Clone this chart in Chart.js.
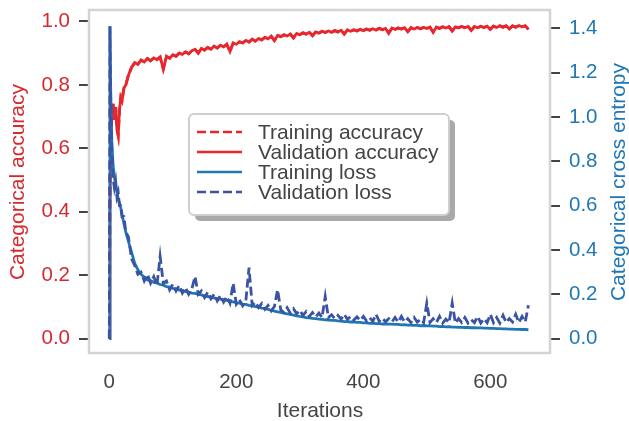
<!DOCTYPE html>
<html>
<head>
<meta charset="utf-8">
<script src="https://cdn.jsdelivr.net/npm/chart.js@4.4.1/dist/chart.umd.min.js"></script>
<style>
  body { margin: 0; background: #fff; }
  canvas { display: block; }
</style>
</head>
<body>
<canvas id="historyChart" width="629" height="421"></canvas>
<script>
// iterations at which the curves were sampled
const iterations = [0, 1, 2, 4, 6, 8, 10, 12, 14, 16, 18, 20, 23, 26,
    30, 35, 40, 45, 50, 55, 60, 65, 70, 75, 80, 85, 90, 95, 100,
    105, 110, 115, 120, 125, 130, 135, 140, 145, 150, 155, 160, 165, 170, 175, 180, 185, 190, 195, 200,
    205, 210, 215, 220, 225, 230, 235, 240, 245, 250, 255, 260, 265, 270, 275, 280, 285, 290, 295, 300,
    305, 310, 315, 320, 325, 330, 335, 340, 345, 350, 355, 360, 365, 370, 375, 380, 385, 390, 395, 400,
    405, 410, 415, 420, 425, 430, 435, 440, 445, 450, 455, 460, 465, 470, 475, 480, 485, 490, 495, 500,
    505, 510, 515, 520, 525, 530, 535, 540, 545, 550, 555, 560, 565, 570, 575, 580, 585, 590, 595, 600,
    605, 610, 615, 620, 625, 630, 635, 640, 645, 650, 655, 660];

const valAcc = [0.00, 0.40, 0.60, 0.70, 0.74, 0.69, 0.73, 0.66, 0.64, 0.72, 0.76, 0.75, 0.79, 0.80,
    0.83, 0.855, 0.87, 0.865, 0.878, 0.872, 0.883, 0.876, 0.885, 0.88, 0.888, 0.85, 0.89, 0.884, 0.895,
    0.89, 0.90, 0.896, 0.904, 0.898, 0.908, 0.912, 0.90, 0.915, 0.91, 0.918, 0.912, 0.922, 0.916, 0.925, 0.92, 0.928, 0.905, 0.932, 0.928,
    0.936, 0.932, 0.94, 0.935, 0.944, 0.938, 0.946, 0.942, 0.95, 0.945, 0.953, 0.94, 0.956, 0.952, 0.958, 0.954, 0.96, 0.948, 0.962, 0.958,
    0.964, 0.96, 0.966, 0.955, 0.967, 0.963, 0.969, 0.965, 0.97, 0.966, 0.971, 0.967, 0.972, 0.96, 0.973, 0.969, 0.974, 0.97, 0.975, 0.971,
    0.976, 0.972, 0.977, 0.973, 0.978, 0.974, 0.978, 0.963, 0.979, 0.975, 0.979, 0.976, 0.98, 0.968, 0.98, 0.976, 0.981, 0.977, 0.981, 0.978,
    0.982, 0.966, 0.982, 0.978, 0.983, 0.979, 0.983, 0.97, 0.983, 0.98, 0.984, 0.98, 0.984, 0.972, 0.984, 0.98, 0.985, 0.981, 0.985, 0.975,
    0.985, 0.981, 0.986, 0.982, 0.986, 0.976, 0.986, 0.982, 0.987, 0.983, 0.986, 0.975];

// training accuracy sits right under the validation curve
const trainAcc = valAcc;

const trainLoss = [0.00, 1.41, 1.15, 0.88, 0.78, 0.73, 0.69, 0.66, 0.63, 0.61, 0.59, 0.56, 0.52, 0.48,
    0.44, 0.39, 0.34, 0.31, 0.29, 0.278, 0.265, 0.262, 0.254, 0.251, 0.244, 0.241, 0.235, 0.233, 0.227,
    0.225, 0.219, 0.218, 0.212, 0.21, 0.205, 0.204, 0.199, 0.197, 0.192, 0.19, 0.186, 0.184, 0.18, 0.178, 0.174, 0.172, 0.168, 0.166, 0.162,
    0.16, 0.156, 0.154, 0.15, 0.148, 0.144, 0.142, 0.138, 0.136, 0.132, 0.128, 0.124, 0.121, 0.118, 0.115, 0.112, 0.109, 0.106, 0.103, 0.1,
    0.098, 0.095, 0.094, 0.091, 0.09, 0.088, 0.087, 0.085, 0.084, 0.082, 0.082, 0.08, 0.079, 0.077, 0.077, 0.075, 0.075, 0.073, 0.073, 0.071,
    0.071, 0.069, 0.07, 0.068, 0.068, 0.066, 0.067, 0.065, 0.065, 0.064, 0.064, 0.062, 0.063, 0.061, 0.061, 0.06, 0.06, 0.058, 0.059, 0.057,
    0.057, 0.056, 0.056, 0.054, 0.055, 0.053, 0.054, 0.052, 0.052, 0.051, 0.051, 0.05, 0.05, 0.049, 0.049, 0.048, 0.048, 0.047, 0.047, 0.046,
    0.046, 0.045, 0.045, 0.044, 0.044, 0.043, 0.043, 0.042, 0.042, 0.041, 0.041, 0.04];

const valLoss = [0.00, 1.41, 1.10, 0.85, 0.72, 0.68, 0.71, 0.64, 0.66, 0.60, 0.60, 0.55, 0.55, 0.48,
    0.46, 0.36, 0.33, 0.29, 0.30, 0.26, 0.29, 0.25, 0.28, 0.24, 0.37, 0.25, 0.26, 0.22, 0.245,
    0.215, 0.24, 0.205, 0.23, 0.20, 0.225, 0.28, 0.20, 0.215, 0.185, 0.21, 0.18, 0.20, 0.17, 0.195, 0.165, 0.19, 0.16, 0.25, 0.155,
    0.175, 0.148, 0.17, 0.32, 0.15, 0.165, 0.14, 0.158, 0.132, 0.15, 0.125, 0.145, 0.22, 0.13, 0.118, 0.14, 0.115, 0.135, 0.112, 0.128,
    0.105, 0.122, 0.10, 0.118, 0.098, 0.115, 0.095, 0.19, 0.095, 0.108, 0.09, 0.105, 0.088, 0.11, 0.086, 0.10, 0.084, 0.098, 0.082, 0.10,
    0.08, 0.095, 0.078, 0.11, 0.078, 0.092, 0.076, 0.09, 0.075, 0.095, 0.074, 0.10, 0.075, 0.09, 0.072, 0.095, 0.074, 0.088, 0.072, 0.16,
    0.073, 0.09, 0.072, 0.10, 0.07, 0.088, 0.072, 0.16, 0.07, 0.09, 0.072, 0.095, 0.07, 0.085, 0.072, 0.10, 0.07, 0.09, 0.072, 0.11,
    0.072, 0.095, 0.07, 0.105, 0.072, 0.09, 0.075, 0.11, 0.072, 0.10, 0.075, 0.15];

const iterTicks = [0, 200, 400, 600];
const accTicks = [0, 0.2, 0.4, 0.6, 0.8, 1.0];
const lossTicks = [0, 0.2, 0.4, 0.6, 0.8, 1.0, 1.2, 1.4];

const RED = '#e8262c';
const RED_TEXT = '#d62a2f';
const BLUE = '#1f77b4';
const DARK_BLUE = '#3a53a4';
const GREY_TEXT = '#444444';
const FONT = '"Liberation Sans", Arial, sans-serif';

function points(values) {
    return iterations.map((x, i) => ({ x: x, y: values[i] }));
}

// frame, in-plot legend and the axis titles
const decorPlugin = {
    id: 'decor',
    afterDatasetsDraw(chart) {
        const { ctx, chartArea: a } = chart;
        ctx.save();
        ctx.strokeStyle = '#d4d4d4';
        ctx.lineWidth = 2.5;
        ctx.strokeRect(a.left, a.top, a.right - a.left, a.bottom - a.top);
        ctx.restore();
    },
    afterDraw(chart) {
        const ctx = chart.ctx;
        ctx.save();

        // legend box with shadow
        const bx = 189, by = 114, bw = 260, bh = 101;
        ctx.fillStyle = '#a9a9a9';
        ctx.beginPath();
        ctx.roundRect(bx + 6, by + 6, bw, bh, 5);
        ctx.fill();
        ctx.fillStyle = '#ffffff';
        ctx.strokeStyle = '#cfcfcf';
        ctx.lineWidth = 2;
        ctx.beginPath();
        ctx.roundRect(bx, by, bw, bh, 5);
        ctx.fill();
        ctx.stroke();

        ctx.font = '21px ' + FONT;
        ctx.textBaseline = 'alphabetic';
        ctx.textAlign = 'left';
        chart.data.datasets.forEach((ds, i) => {
            const y = 132 + i * 20;
            ctx.strokeStyle = ds.borderColor;
            ctx.lineWidth = 2.5;
            ctx.setLineDash(ds.borderDash || []);
            ctx.beginPath();
            ctx.moveTo(197, y);
            ctx.lineTo(242, y);
            ctx.stroke();
            ctx.setLineDash([]);
            ctx.fillStyle = GREY_TEXT;
            ctx.fillText(ds.label, 258, y + 6.5);
        });

        // axis titles
        ctx.textAlign = 'center';
        ctx.fillStyle = GREY_TEXT;
        ctx.fillText('Iterations', 320, 417);
        ctx.fillStyle = RED_TEXT;
        ctx.translate(24, 182);
        ctx.rotate(-Math.PI / 2);
        ctx.fillText('Categorical accuracy', 0, 0);
        ctx.setTransform(1, 0, 0, 1, 0, 0);
        ctx.fillStyle = BLUE;
        ctx.translate(625, 182);
        ctx.rotate(-Math.PI / 2);
        ctx.fillText('Categorical cross entropy', 0, 0);
        ctx.restore();
    }
};

function fixTicks(list) {
    return function(scale) {
        scale.ticks = list.map(v => ({ value: v }));
    };
}

const ctx = document.getElementById('historyChart').getContext('2d');

new Chart(ctx, {
    type: 'line',
    data: {
        datasets: [{
            label: 'Training accuracy',
            data: points(trainAcc),
            yAxisID: 'y',
            borderColor: RED,
            borderDash: [9, 4],
            borderWidth: 2.8,
            pointRadius: 0,
            order: 4
        }, {
            label: 'Validation accuracy',
            data: points(valAcc),
            yAxisID: 'y',
            borderColor: RED,
            borderWidth: 2.8,
            pointRadius: 0,
            order: 3
        }, {
            label: 'Training loss',
            data: points(trainLoss),
            yAxisID: 'y1',
            borderColor: BLUE,
            borderWidth: 2.8,
            pointRadius: 0,
            order: 2
        }, {
            label: 'Validation loss',
            data: points(valLoss),
            yAxisID: 'y1',
            borderColor: DARK_BLUE,
            borderDash: [9, 4],
            borderWidth: 2.8,
            pointRadius: 0,
            order: 1
        }]
    },
    options: {
        responsive: false,
        animation: false,
        devicePixelRatio: 1,
        layout: {
            padding: { top: 10, left: 0, right: 0, bottom: 0 }
        },
        scales: {
            x: {
                type: 'linear',
                min: -32,
                max: 694,
                afterBuildTicks: fixTicks(iterTicks),
                afterFit: function(scale) {
                    scale.height = 68;
                    scale.paddingLeft = 0;
                    scale.paddingRight = 0;
                },
                grid: { display: false, drawTicks: false },
                border: { display: false },
                ticks: {
                    color: GREY_TEXT,
                    font: { family: FONT, size: 20.5 },
                    padding: 17,
                    maxRotation: 0
                }
            },
            y: {
                position: 'left',
                min: -0.045,
                max: 1.036,
                afterBuildTicks: fixTicks(accTicks),
                afterFit: function(scale) {
                    scale.width = 89;
                    scale.paddingTop = 0;
                    scale.paddingBottom = 0;
                },
                grid: {
                    drawOnChartArea: false,
                    drawTicks: true,
                    tickLength: 10,
                    tickColor: GREY_TEXT,
                    lineWidth: 2
                },
                border: { display: false },
                ticks: {
                    color: RED_TEXT,
                    font: { family: FONT, size: 20.5 },
                    padding: 9,
                    callback: v => v.toFixed(1)
                }
            },
            y1: {
                position: 'right',
                min: -0.065,
                max: 1.483,
                afterBuildTicks: fixTicks(lossTicks),
                afterFit: function(scale) {
                    scale.width = 79;
                    scale.paddingTop = 0;
                    scale.paddingBottom = 0;
                },
                grid: {
                    drawOnChartArea: false,
                    drawTicks: true,
                    tickLength: 10,
                    tickColor: GREY_TEXT,
                    lineWidth: 2
                },
                border: { display: false },
                ticks: {
                    color: BLUE,
                    font: { family: FONT, size: 20.5 },
                    padding: 9,
                    callback: v => v.toFixed(1)
                }
            }
        },
        plugins: {
            legend: { display: false },
            tooltip: { enabled: false }
        }
    },
    plugins: [decorPlugin]
});
</script>
</body>
</html>
